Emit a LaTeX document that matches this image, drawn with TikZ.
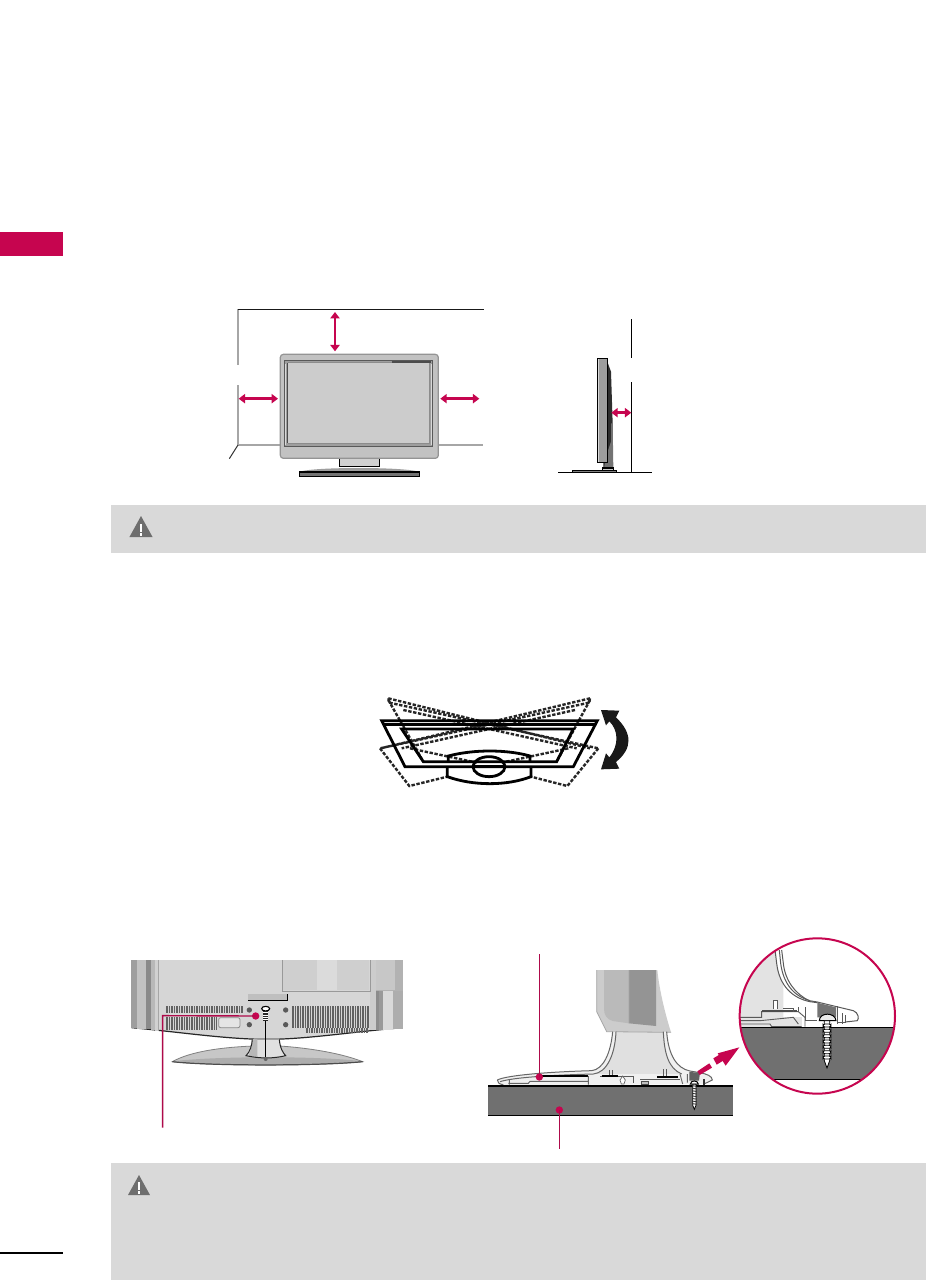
\documentclass[tikz,border=0pt]{standalone}
\usetikzlibrary{arrows.meta}
\definecolor{lgpink}{HTML}{C6054F}
\definecolor{leader}{HTML}{AE0A4A}
\definecolor{notebg}{HTML}{D9D9D9}
\definecolor{warn}{HTML}{6E6E6E}
\definecolor{slab}{HTML}{707070}
\tikzset{
  px/.style={line width=#1*0.5pt},
  wallgray/.style={draw=black!35,px=2},
  wallblack/.style={draw=black!90,px=1.5},
  clearance/.style={draw=lgpink,px=2.6,{Triangle[length=3.2pt,width=4.6pt]}-{Triangle[length=3.2pt,width=4.6pt]}},
  leaderline/.style={draw=leader,px=1.2},
  tvline/.style={draw=black,px=2.8},
  tvdash/.style={draw=black!85,px=2.4,dash pattern=on 1.7pt off 0.8pt},
  pinkdot/.style={circle,fill=lgpink,inner sep=0pt,minimum size=3.7pt}
}
\newcommand{\warntriangle}[3]{%
  \fill[warn] (#1,#2) -- ++(-#3*0.55,#3) -- ++(#3*1.1,0) -- cycle;
  \fill[white] (#1-0.9,#2+#3*0.36) rectangle (#1+0.9,#2+#3*0.76);
  \fill[white] (#1-0.9,#2+#3*0.82) rectangle (#1+0.9,#2+#3*0.95);
}
% screw: head centre at (#1,#2), tip at (#1,#3), zoomed coordinates, scale factor #4
\newcommand{\screwdraw}[4]{%
  \fill[white,draw=black,px=1] (#1-#4*22,#2+#4*14) .. controls (#1-#4*20,#2-#4*10) and (#1+#4*20,#2-#4*10) .. (#1+#4*22,#2+#4*14) -- cycle;
  \fill[white,draw=black,px=.8] (#1-#4*9,#2+#4*14) -- (#1-#4*9,#3-#4*22) -- (#1,#3) -- (#1+#4*9,#3-#4*22) -- (#1+#4*9,#2+#4*14) -- cycle;
  \pgfmathsetmacro{\scrfirst}{#2+#4*22}
  \pgfmathsetmacro{\scrnext}{#2+#4*22+#4*14}
  \pgfmathsetmacro{\scrend}{#3-#4*18}
  \foreach \yy in {\scrfirst,\scrnext,...,\scrend}{
    \draw[black!80,px=.9] (#1-#4*12,\yy) -- (#1+#4*12,\yy+#4*3);
  }
}
\begin{document}
\begin{tikzpicture}[x=0.5pt,y=-0.5pt]
\useasboundingbox (0,0) rectangle (926,1280);
\fill[white] (0,0) rectangle (926,1280);

% page tab, notes
\fill[lgpink] (0,232) rectangle (63,256);
\fill[notebg] (111,505) rectangle (926,553);
\fill[notebg] (111,1163) rectangle (926,1280);
\draw[black,px=1.5] (0,1253) -- (63,1253);
\warntriangle{141}{516}{21}
\warntriangle{139}{1175}{20}

% ---------- front TV with clearances
\begin{scope}[shift={(210,290)},scale=1/3]
  \coordinate (wallTL) at (84,58);
  \coordinate (wallTR) at (822,58);
  \coordinate (wallA) at (84,224);
  \coordinate (wallB) at (84,286);
  \coordinate (wallC) at (84,465);
  \coordinate (floorR) at (820,465);
  \draw[wallgray] (wallA) -- (wallTL);
  \draw[wallgray] (wallB) -- (wallC) -- (floorR);
  \draw[wallblack] (wallTL) -- (wallTR);
  \draw[black!80,px=1] (wallC) -- (58,506);
  % stand
  \fill[black!38] (268,546) .. controls (300,530) and (590,530) .. (628,546) -- cycle;
  \fill[black!55,draw=black,px=1.2] (268,546) rectangle (628,559);
  \fill[black!18,draw=black,px=1.2] (388,500) rectangle (508,530);
  % body
  \fill[black!24,draw=black!42,px=1.2,rounded corners=1.5pt] (211,193) rectangle (685,505);
  \fill[black!38,draw=black!65,px=1] (222,210) rectangle (668,470);
  \fill[black!20] (233,218) rectangle (658,460);
  \draw[black!45,px=.8] (233,218) -- (545,218) (233,460) -- (658,460) -- (658,218);
  \draw[black!70,px=1.2] (545,216) -- (662,216);
  \draw[black!70,px=.9] (233,218) -- (233,460);
  \fill[black!15] (662,222) rectangle (667,466);
  \fill[black!15] (224,222) rectangle (229,466);
  % arrows
  \coordinate (upA) at (375,66); \coordinate (upB) at (375,184);
  \coordinate (leftA) at (86,326); \coordinate (leftB) at (204,326);
  \coordinate (rightA) at (691,326); \coordinate (rightB) at (808,326);
  \draw[clearance] (upA) -- (upB);
  \draw[clearance] (leftA) -- (leftB);
  \draw[clearance] (rightA) -- (rightB);
\end{scope}

% ---------- side TV
\begin{scope}[shift={(540,300)},scale=1/3]
  \fill[black!82] (203,188) -- (213,215) -- (218,370) -- (218,505) -- (190,505) -- (190,488) -- (203,488) -- cycle;
  \fill[black!55] (198,470) -- (213,425) -- (213,370) -- (218,370) -- (220,505) -- (192,505) -- cycle;
  \fill[black!38,draw=black,px=1.4] (172,175) rectangle (203,488);
  \fill[black!15] (174,177) rectangle (178,486);
  \fill[black!20,draw=black,px=1.2] (187,504) rectangle (221,511);
  \fill[black!50,draw=black,px=1.2] (97,511) rectangle (229,517);
  \coordinate (swallA) at (274,57); \coordinate (swallB) at (274,173);
  \coordinate (swallC) at (274,247); \coordinate (swallD) at (274,517);
  \coordinate (sfloorA) at (55,517); \coordinate (sfloorB) at (337,517);
  \draw[black,px=1.4] (swallA) -- (swallB);
  \draw[black,px=1.4] (swallC) -- (swallD);
  \draw[black,px=1.4] (sfloorA) -- (sfloorB);
  \coordinate (sideA) at (214,338); \coordinate (sideB) at (274,338);
  \draw[clearance] (sideA) -- (sideB);
\end{scope}

% ---------- tilt
\begin{scope}[shift={(360,680)},scale=1/3]
  % dashed tilted positions
  \draw[tvdash] (85,55) -- (690,205) (88,68) -- (715,205) (85,55) -- (88,68);
  \draw[tvdash] (690,55) -- (62,205) (687,68) -- (60,205) (690,55) -- (687,68);
  \draw[tvdash] (85,60) -- (190,245) ;
  \draw[tvdash] (690,60) -- (590,245);
  \draw[tvdash] (60,205) -- (148,318) -- (262,290);
  \draw[tvdash] (715,205) -- (622,318) -- (513,290);
  \draw[tvdash] (130,90) -- (650,205);
  \draw[tvdash] (645,90) -- (125,205);
  \draw[tvdash] (150,205) -- (350,248);
  \draw[tvdash] (625,205) -- (425,248);
  % solid
  \draw[tvline,line join=miter] (65,122) -- (712,122) -- (640,260) -- (135,260) -- cycle;
  \draw[tvline] (72,133) -- (705,133);
  \draw[tvline,line join=miter] (125,147) -- (640,147) -- (590,245) -- (190,245) -- cycle;
  \draw[tvline] (265,245) -- (265,228) .. controls (340,208) and (440,208) .. (510,228) -- (510,245);
  \draw[tvline] (262,260) -- (262,290) .. controls (340,318) and (440,318) .. (513,290) -- (513,260);
  \draw[tvline] (387,260) ellipse (48 and 30);
  \draw[tvline] (340,258) -- (435,258);
  % rocking arrow
  \fill[black!90] (723,90) -- (778,92) -- (768,112) .. controls (818,160) and (818,205) .. (768,246) -- (778,266) -- (723,268) -- (738,220) -- (748,232) .. controls (778,195) and (775,150) .. (748,124) -- (738,136) -- cycle;
\end{scope}

% ---------- rear view of TV
\begin{scope}[shift={(120,950)},scale=1/3]
  % base
  \fill[black!22,draw=black!50,px=0.8] (157,335) .. controls (210,305) and (300,292) .. (400,288) -- (480,288) .. controls (580,295) and (670,312) .. (728,335) .. controls (600,348) and (270,348) .. (157,335) -- cycle;
  \fill[black!32] (165,333) .. controls (300,318) and (590,318) .. (720,333) .. controls (600,346) and (280,346) .. (165,333) -- cycle;
  \draw[black!70,px=1.2] (157,335) .. controls (270,348) and (600,348) .. (728,335);
  % body
  \path[fill=black!16] (33,30) -- (848,30) -- (848,233) .. controls (700,245) and (560,268) .. (440,268) .. controls (320,268) and (170,245) .. (35,233) -- cycle;
  \draw[black!85,px=1.2] (35,233) .. controls (170,245) and (320,268) .. (440,268) .. controls (560,268) and (700,245) .. (848,233);
  \fill[black!38] (33,30) rectangle (50,233);
  \fill[black!24] (50,30) rectangle (78,236);
  \fill[black!46] (78,30) rectangle (92,238);
  \fill[black!28] (92,30) rectangle (104,240);
  \fill[black!18] (104,30) rectangle (115,242);
  \fill[black!20] (750,30) rectangle (768,240);
  \fill[black!30] (768,30) rectangle (848,122);
  \fill[black!22] (768,30) rectangle (826,120);
  \fill[black!40] (778,122) rectangle (790,240);
  \fill[black!15] (790,122) rectangle (820,240);
  \fill[black!32] (820,122) rectangle (848,236);
  \fill[black!45] (768,122) rectangle (778,240);
  \draw[black!35,px=.8] (115,30) -- (115,242);
  \fill[black!19] (490,30) rectangle (748,121);
  \fill[black!14] (590,30) rectangle (650,121);
  \draw[black!40,px=.8] (487,30) -- (487,123) -- (750,123) -- (750,30);
  % bracket
  \fill[black!25] (384,133) rectangle (503,152);
  \draw[black,px=1.4] (384,152) -- (503,152) -- (503,133);
  % vents
  \foreach \xx in {138,143,...,368}{\draw[black!62,px=1] (\xx,168) -- (\xx,190);}
  \foreach \xx in {138,143,...,290}{\draw[black!62,px=1] (\xx,200) -- (\xx,241);}
  \foreach \xx in {516,521,...,746}{\draw[black!62,px=1] (\xx,168) -- (\xx,234);}
  \foreach \xx in {558,563,...,746}{\draw[black!62,px=1] (\xx,234) -- (\xx,248);}
  \fill[black!10,draw=black!45,px=.8,rounded corners=1pt] (296,203) rectangle (360,233);
  % bolts
  \foreach \xx/\yy in {388/180,388/224,497/180,497/224}{\fill[black!65] (\xx,\yy) circle (8);}
  % neck
  \fill[black!12] (397,268) -- (478,268) .. controls (480,295) and (490,310) .. (497,317) .. controls (460,326) and (420,326) .. (378,317) .. controls (390,305) and (395,290) .. (397,268) -- cycle;
  \fill[black!28] (397,268) -- (412,268) -- (412,320) -- (385,318) .. controls (392,305) and (396,290) .. (397,268) -- cycle;
  \draw[black!85,px=1] (397,268) .. controls (395,290) and (390,305) .. (378,317) .. controls (420,326) and (460,326) .. (497,317) .. controls (490,310) and (480,295) .. (478,268);
  % screw and its axis
  \coordinate (rearScrewTop) at (437,210);
  \coordinate (rearScrewEnd) at (437,325);
  \draw[black,px=1.2] (rearScrewTop) -- (rearScrewEnd);
  \fill[black!60] (437,327) circle (6);
  \fill[white,draw=black,px=1.1] (437,176) ellipse (12 and 7);
  \fill[black!85] (430,183) rectangle (444,213);
  \foreach \yy in {188,195,...,209}{\draw[white,px=.6] (430,\yy) -- (444,\yy);}
  % leader
  \coordinate (rearHoleEnd) at (128,533);
  \coordinate (rearHoleBend) at (128,197);
  \node[pinkdot] (rearHole) at (407,198) {};
  \draw[leaderline,px=1.4] (rearHole.center) -- (rearHoleBend) -- (rearHoleEnd);
\end{scope}

% ---------- side view of stand on table
\begin{scope}[shift={(480,940)},scale=1/3]
  % column
  \fill[black!12] (398,275) -- (552,275) .. controls (555,330) and (565,375) .. (610,395) -- (600,432) -- (340,432) -- (340,392) .. controls (380,375) and (395,330) .. (398,275) -- cycle;
  \fill[black!20] (350,90) -- (532,90) .. controls (538,150) and (555,220) .. (573,277) -- (380,275) -- (350,215) -- cycle;
  \fill[black!27] (372,90) -- (447,90) -- (447,250) -- (398,243) .. controls (380,238) and (372,225) .. (372,205) -- cycle;
  \fill[black!42] (447,90) -- (528,90) -- (528,258) -- (447,250) -- cycle;
  \draw[black!35,px=.8] (350,90) -- (350,215) -- (380,275) -- (573,277) (447,90) -- (447,250);
  % base
  \fill[black!6] (52,420) .. controls (80,405) and (220,395) .. (335,392) .. controls (370,388) and (392,340) .. (398,275) -- (408,275) .. controls (405,345) and (380,398) .. (340,402) -- (600,402) .. controls (565,385) and (553,340) .. (550,275) -- (560,275) .. controls (565,345) and (590,385) .. (630,393) -- (660,398) .. controls (680,402) and (697,408) .. (697,420) -- (670,432) -- (60,436) .. controls (55,430) and (52,425) .. (52,420) -- cycle;
  \draw[black!60,px=1] (52,420) .. controls (80,405) and (220,395) .. (335,392) .. controls (370,388) and (392,340) .. (398,275);
  \draw[black!60,px=1] (60,425) .. controls (100,412) and (220,405) .. (340,402) .. controls (380,398) and (405,345) .. (408,275);
  \draw[black!60,px=1] (550,275) .. controls (553,340) and (565,385) .. (605,402);
  \draw[black!60,px=1] (560,275) .. controls (565,345) and (590,385) .. (630,393) -- (660,398) .. controls (680,402) and (697,408) .. (697,420) -- (672,432);
  \draw[black!60,px=1] (52,420) .. controls (52,427) and (58,433) .. (70,434);
  \draw[black,px=1.1] (180,408) -- (325,408);
  \draw[black!60,px=.9] (88,417) -- (88,434) (325,408) -- (325,434) (85,430) -- (145,430) -- (150,424) -- (325,424);
  \draw[black!65,px=.9] (360,408) -- (460,408) -- (460,430) (388,390) -- (388,408) (396,390) -- (396,408) (480,418) -- (600,418) (550,388) -- (550,408) (558,388) -- (558,408);
  \draw[black,px=1.8] (365,407) -- (415,407);
  \draw[black,px=1.8] (532,410) -- (595,410);
  \fill[white,draw=black!60,px=.7] (428,408) -- (436,420) -- (432,432) -- (424,432) -- (420,420) -- cycle;
  \fill[black!25,draw=black!70,px=.6] (485,424) rectangle (505,432);
  \draw[black!60,px=.9] (600,402) -- (608,432) (622,402) -- (622,428);
  \fill[black!80] (670,416) rectangle (676,434);
  % clip block
  \fill[black!62] (628,396) -- (660,398) -- (657,422) -- (628,422) -- cycle;
  % table
  \fill[slab] (24,438) rectangle (758,526);
  \draw[black,px=1.3] (24,438) -- (758,438);
  \draw[black,px=1.3] (24,526) -- (758,526);
  \screwdraw{643}{425}{508}{0.55}
  % leaders
  \node[pinkdot] (baseDot) at (178,411) {};
  \node[pinkdot] (tableDot) at (238,510) {};
  \coordinate (baseEnd) at (178,42);
  \coordinate (tableEnd) at (238,626);
  \draw[leaderline] (baseDot.center) -- (baseEnd);
  \draw[leaderline] (tableDot.center) -- (tableEnd);
  % pink dashed arrow
  \fill[lgpink] (652,394) -- (688,370) -- (696,383) -- (659,405) -- cycle;
  \fill[lgpink] (700,355) -- (720,343) -- (731,361) -- (710,374) -- cycle;
  \fill[lgpink] (778,322) -- (713,340) -- (737,377) -- cycle;
\end{scope}

% ---------- magnified circle
\begin{scope}[shift={(730,930)},scale=1/3]
  \begin{scope}
    \clip (262,258) circle (233);
    \fill[black!11] (0,0) -- (135,0) -- (140,100) .. controls (150,170) and (190,205) .. (240,215) -- (240,292) -- (0,292) -- cycle;
    \fill[white] (155,100) .. controls (160,150) and (190,195) .. (240,212) -- (262,215) -- (262,292) -- (240,292) -- (160,292) -- (160,100) -- cycle;
    \fill[black!11] (30,262) rectangle (215,292);
    \fill[white] (130,212) -- (142,212) -- (142,238) -- (130,238) -- cycle;
    \draw[black!65,px=1] (130,238) -- (130,212) -- (142,212) -- (142,238);
    \draw[black!65,px=1] (135,60) -- (140,100) .. controls (148,170) and (190,205) .. (240,215) -- (262,218);
    \draw[black!65,px=1] (155,60) -- (160,100) .. controls (165,150) and (195,192) .. (238,212) -- (262,216) -- (320,230) -- (370,242) .. controls (385,248) and (388,265) .. (382,272) -- (345,276);
    \draw[black!65,px=1] (148,60) -- (152,100) .. controls (160,160) and (190,198) .. (240,212);
    \draw[black!65,px=.9] (30,262) -- (95,262) -- (95,245) -- (205,245) -- (225,262) -- (225,290);
    \draw[black!65,px=.9] (30,272) -- (90,272) -- (190,262) -- (205,282) (30,282) -- (120,282) -- (125,290) -- (215,290);
    \draw[black!65,px=.9] (205,232) -- (205,245) (225,232) -- (225,270) -- (262,270);
    \draw[black!65,px=.9] (322,228) -- (322,282) (338,250) -- (338,282) (345,255) -- (345,276) -- (322,276);
    \fill[black!70] (95,240) rectangle (200,245);
    \draw[black!65,px=.9] (160,236) -- (190,236) -- (190,245);
    \fill[black!55] (262,218) -- (318,232) -- (318,262) -- (262,262) -- cycle;
    \fill[slab] (0,292) rectangle (500,448);
    \draw[black,px=1.3] (30,292) -- (500,292);
    \draw[black,px=1.3] (120,448) -- (400,448);
    \fill[white] (278,270) rectangle (304,292);
    \fill[black!8,draw=black,px=1] (268,272) .. controls (268,246) and (316,246) .. (318,272) -- cycle;
    \fill[white,draw=black,px=.8] (283,272) -- (283,392) -- (291,414) -- (299,392) -- (299,272) -- cycle;
    \foreach \yy in {282,298,...,386}{
      \fill[white,draw=black,px=.8,rounded corners=1pt] (279,\yy) rectangle (303,\yy+9);
    }
  \end{scope}
  \draw[draw=lgpink,px=2] (262,258) circle (233);
\end{scope}
\end{tikzpicture}
\end{document}
